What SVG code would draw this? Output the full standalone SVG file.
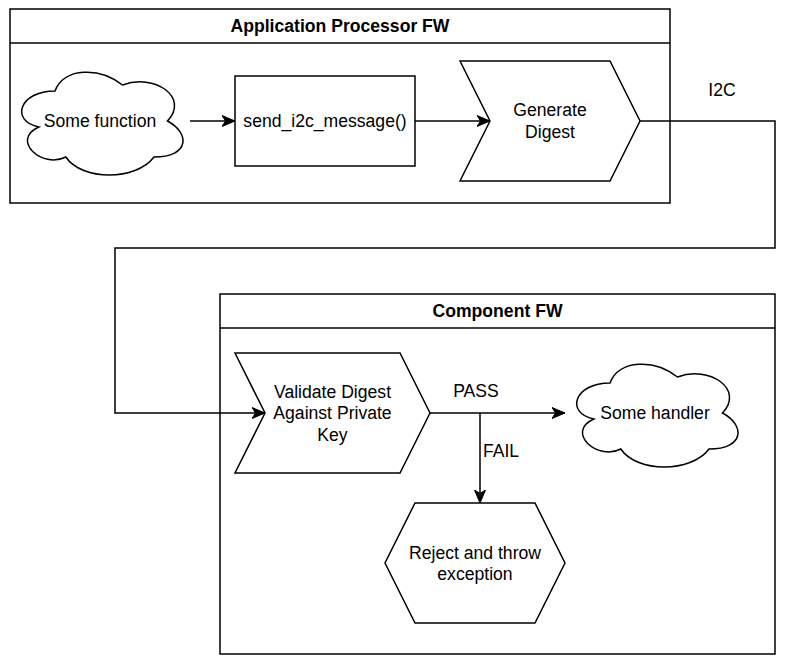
<svg xmlns="http://www.w3.org/2000/svg" xmlns:xlink="http://www.w3.org/1999/xlink" width="797" height="666" viewBox="0 0 797 666">
<style>
.shape{fill:#ffffff;stroke:#000000;stroke-width:1.5;}
.line{fill:none;stroke:#000000;stroke-width:1.5;}
text{font-family:"Liberation Sans",Arial,sans-serif;font-size:17.6px;fill:#000000;text-anchor:middle;}
.title{font-weight:bold;}
</style>
<defs>
<path id="cloud" d="M45,30 C9,30 0,60 28.8,66 C0,79.2 32.4,108 55.8,96 C72,120 126,120 144,96 C180,96 180,72 157.5,60 C180,36 144,12 112.5,24 C90,6 54,6 45,30 Z"/>
<marker id="arrow" markerUnits="userSpaceOnUse" markerWidth="14" markerHeight="12" refX="13" refY="5.5" orient="auto" viewBox="0 0 14 11">
<path d="M0,0 L13,5.5 L0,11 L3.5,5.5 Z" fill="#000000" stroke="#000000" stroke-width="1"/>
</marker>
</defs>
<rect width="797" height="666" fill="#ffffff"/>

<g id="ap-fw">
<rect class="shape" x="10" y="9" width="660" height="194"/>
<line class="line" x1="10" y1="43" x2="670" y2="43"/>
<text class="title" x="340" y="32">Application Processor FW</text>
</g>

<g id="component-fw">
<rect class="shape" x="220" y="294" width="555" height="360"/>
<line class="line" x1="220" y1="328" x2="775" y2="328"/>
<text class="title" x="497.5" y="317">Component FW</text>
</g>

<g id="some-function">
<use xlink:href="#cloud" href="#cloud" x="10" y="61" class="shape"/>
<text x="100" y="127">Some function</text>
</g>

<g id="send-i2c">
<rect class="shape" x="235" y="76" width="180" height="90"/>
<text x="325" y="127">send_i2c_message()</text>
</g>

<g id="generate-digest">
<polygon class="shape" points="460,61 610,61 640,121 610,181 460,181 490,121"/>
<text x="550" y="116.3">Generate</text>
<text x="550" y="137.9">Digest</text>
</g>

<g id="validate-digest">
<polygon class="shape" points="235,353 400,353 430,413 400,473 235,473 265,413"/>
<text x="332.5" y="397.8">Validate Digest</text>
<text x="332.5" y="419.4">Against Private</text>
<text x="332.5" y="441">Key</text>
</g>

<g id="some-handler">
<use xlink:href="#cloud" href="#cloud" x="565" y="353" class="shape"/>
<text x="655" y="419">Some handler</text>
</g>

<g id="reject">
<polygon class="shape" points="415,503 535,503 565,563 535,623 415,623 385,563"/>
<text x="475" y="558.6">Reject and throw</text>
<text x="475" y="580.2">exception</text>
</g>

<g id="connectors">
<line class="line" x1="190" y1="121" x2="235" y2="121" marker-end="url(#arrow)"/>
<line class="line" x1="415" y1="121" x2="490" y2="121" marker-end="url(#arrow)"/>
<polyline class="line" points="640,121 775,121 775,248 115,248 115,413 265,413" marker-end="url(#arrow)"/>
<line class="line" x1="430" y1="413" x2="565" y2="413" marker-end="url(#arrow)"/>
<polyline class="line" points="480,413 480,503" marker-end="url(#arrow)"/>
<text x="722" y="96">I2C</text>
<text x="476" y="397">PASS</text>
<text x="501" y="457">FAIL</text>
</g>
</svg>
